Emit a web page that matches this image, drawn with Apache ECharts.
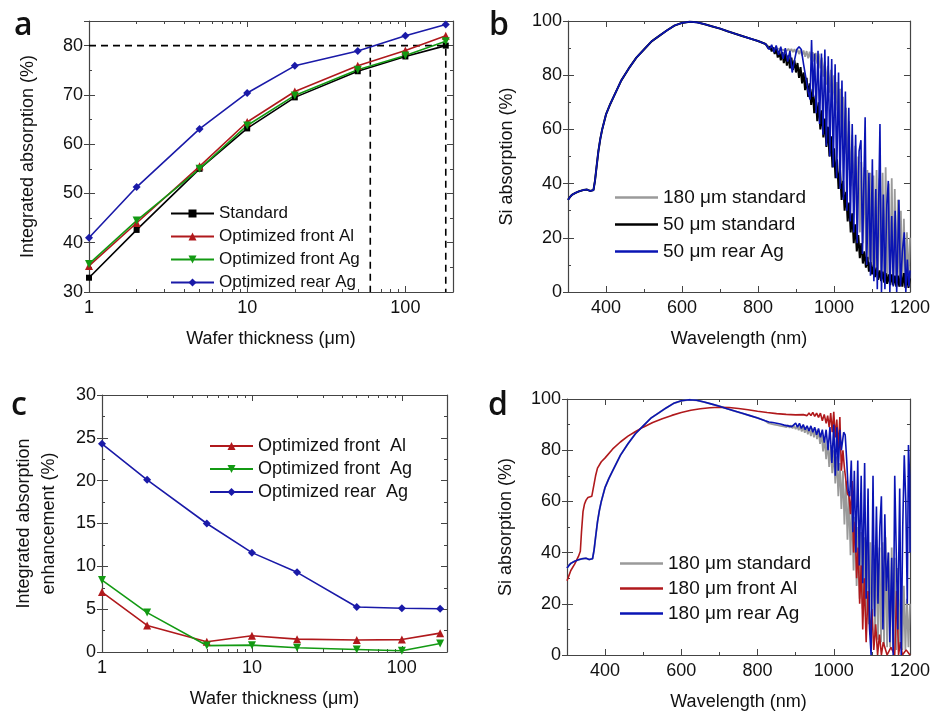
<!DOCTYPE html>
<html><head><meta charset="utf-8">
<script src="https://cdn.jsdelivr.net/npm/echarts@6/dist/echarts.min.js"></script>
<style>html,body{margin:0;padding:0;background:#fff}#c{width:933px;height:712px}</style>
</head><body><div id="c"></div>
<script>
// ---------- DATA ----------
const thickness = [1, 2, 5, 10, 20, 50, 100, 180];
const absStandard = [32.9, 42.6, 55.0, 63.2, 69.5, 74.8, 77.8, 80.0];
const absFrontAl = [35.3, 44.0, 55.5, 64.5, 70.7, 75.9, 79.0, 82.0];
const absFrontAg = [35.7, 44.5, 55.0, 63.8, 69.9, 75.1, 78.0, 80.9];
const absRearAg = [41.0, 51.3, 63.1, 70.4, 75.9, 78.9, 82.0, 84.3];
const guideX1 = [1, 180, 180];
const guideY1 = [80, 80, 30];
const guideX2 = [60, 60];
const guideY2 = [80, 30];

const enhFrontAl = [7.0, 3.1, 1.2, 1.9, 1.5, 1.4, 1.45, 2.2];
const enhFrontAg = [8.4, 4.6, 0.75, 0.8, 0.5, 0.3, 0.15, 1.0];
const enhRearAg = [24.3, 20.1, 15.0, 11.6, 9.3, 5.25, 5.1, 5.05];

const logMajorTicks = [1, 10, 100];
const logMinorTicks = [2, 3, 4, 5, 6, 7, 8, 9, 20, 30, 40, 50, 60, 70, 80, 90, 200];

// common smooth part of the spectra (300-820 nm)
const wlCommon = [300,305,310,320,330,340,350,358,363,367,371,375,380,385,390,400,410,420,440,460,480,500,520,540,560,580,600,620,640,660,680,700,720,740,760,780,800,820];
const siCommon = [34.0,35.0,35.8,36.6,37.2,37.6,37.8,37.3,37.0,37.6,41,46,52,56.5,60,65.5,69,72,78,82.5,86.5,89.5,92.5,94.5,96.5,98.3,99.3,99.7,99.5,98.8,98.0,97.2,96.2,95.3,94.4,93.5,92.6,91.5];

// dense tails 824-1200 nm
const wlDense = [824,828,832,836,840,844,848,852,856,860,864,868,872,876,880,884,888,892,896,900,904,908,912,916,920,924,928,932,936,940,944,948,952,956,960,964,968,972,976,980,984,988,992,996,1000,1004,1008,1012,1016,1020,1024,1028,1032,1036,1040,1044,1048,1052,1056,1060,1064,1068,1072,1076,1080,1084,1088,1092,1096,1100,1104,1108,1112,1116,1120,1124,1128,1132,1136,1140,1144,1148,1152,1156,1160,1164,1168,1172,1176,1180,1184,1188,1192,1196,1200];
const std180Tail = [91.2,90.6,91.0,90.3,90.8,90.0,90.6,89.8,90.4,89.5,90.2,89.3,90.0,89.0,89.8,88.8,89.7,88.5,89.6,88.2,89.5,87.8,89.3,87.3,89.1,86.8,88.9,86.2,88.7,85.5,88.5,85.0,88.2,84.3,88.0,82.5,86.5,79.5,85.0,76.5,83.5,73.5,82.0,71.0,80.0,67.0,77.5,62.0,75.0,57.0,72.0,51.0,68.0,45.0,63.0,39.0,58.0,33.0,54.0,27.0,50.0,22.0,48.0,18.0,46.0,15.0,45.0,12.0,44.0,10.0,43.0,8.0,45.0,6.0,42.0,5.0,44.0,4.0,46.0,3.0,40.0,3.0,42.0,2.5,38.0,2.0,34.0,2.0,30.0,2.0,27.0,2.0,22.0,3.0,20.0];
const std50Tail = [91.0,89.8,90.6,88.8,90.2,87.8,89.7,86.5,89.0,85.5,88.5,84.5,88.0,83.5,87.3,82.5,86.5,82.0,85.5,81.0,84.5,79.0,83.0,77.0,81.0,74.5,79.0,72.0,77.0,69.0,75.0,66.0,72.5,63.0,70.0,60.0,67.0,57.0,64.0,53.5,61.0,50.0,57.5,46.0,53.0,42.0,49.0,38.0,45.0,34.0,41.0,30.0,37.0,26.0,33.0,22.0,29.0,18.0,25.0,15.0,21.0,12.5,18.0,10.5,15.0,9.0,13.0,7.5,11.0,6.5,10.0,5.5,9.0,4.5,8.0,4.0,7.5,3.5,7.0,3.0,6.5,2.5,6.5,2.5,6.0,2.0,6.0,2.0,6.5,2.0,7.0,1.5,6.0,1.5,5.0];

const wlRear50 = [824,830,836,842,848,854,860,866,872,878,884,890,896,902,908,914,920,926,932,937,941,945,949,953,958,962,967,971,976,980,985,989,994,998,1003,1007,1012,1016,1021,1025,1030,1034,1039,1043,1048,1052,1057,1061,1066,1071,1075,1082,1086,1092,1096,1101,1105,1110,1114,1121,1125,1130,1134,1139,1143,1147,1152,1156,1161,1165,1171,1175,1180,1185,1189,1193,1197,1200];
const rear50Tail = [90.8,89.5,91.2,88.5,91.0,87.5,90.5,86.0,90.0,85.0,89.0,81.0,85.5,89.5,90.5,89.5,84.0,79.0,74.0,71.0,93.0,72.0,88.0,66.0,89.0,62.0,88.0,58.0,89.5,54.0,87.0,50.0,86.0,46.0,84.0,42.0,81.0,38.0,78.0,34.0,74.0,30.0,68.0,26.0,62.0,22.0,58.0,18.0,52.0,56.0,14.0,64.5,10.0,44.0,6.0,49.0,4.0,38.0,1.0,62.0,0.0,36.0,1.0,32.0,41.0,0.0,28.0,2.0,30.0,0.0,34.0,2.0,15.0,22.0,0.0,12.0,2.0,8.0];

const wlRear180 = [824,830,840,850,860,870,880,890,900,905,910,915,920,925,930,935,940,945,950,955,960,965,970,975,980,985,990,995,1000,1004,1008,1012,1016,1020,1026,1030,1034,1038,1042,1046,1050,1054,1058,1063,1067,1072,1076,1081,1085,1090,1094,1098,1103,1107,1112,1116,1121,1125,1129,1134,1138,1143,1147,1152,1156,1160,1164,1168,1173,1177,1181,1185,1189,1193,1196,1199,1200];
const rear180Tail = [91.3,91.0,90.8,90.5,90.2,89.8,89.5,89.2,90.6,89,90.5,88.5,90,88,89.5,87.5,89.5,87,89,86,88.5,85,88,83,88,80,89,75,90,70,89,72,88,80,87,86,76,64,62,76,48,72,40,76,35,70,28,75,22,65,10,0,70,15,58,20,50,62,10,55,25,40,5,38,0,70,40,10,65,0,50,78,60,20,82,70,40];

const wlFrontAl = [300,305,310,320,330,335,338,342,346,350,355,360,365,370,375,380,390,400,420,440,460,480,500,525,550,575,600,625,650,675,700,725,750,775,800,825,850,875,900,920,930,935,940,945,950,955,960,965,970,975,980,984,988,992,996,1000,1004,1008,1012,1016,1020,1024,1028,1032,1036,1040,1044,1048,1052,1056,1060,1064,1068,1072,1076,1080,1085,1090,1095,1100,1105,1110,1115,1120,1125,1130,1140,1150,1160,1165,1170,1175,1180,1190,1200];
const siFrontAl = [29,31,33,35.5,38.5,40.5,48,56,59,60.5,61.5,61,62,66,70,73,75.5,77,80.5,83.2,85.5,87.3,89,90.8,92.3,93.6,94.7,95.6,96.2,96.6,96.8,96.7,96.3,95.8,95.2,94.7,94.3,94.0,93.8,93.9,93.5,94.5,93.5,94.8,93.2,94.5,92.8,94.5,91.5,94.0,90.5,93.5,89,94.5,87,95,85,92,80,93,72,80,73,68,63,62,55,68,40,52,30,42,20,35,10,30,5,25,8,18,2,12,0,8,0,5,0,3,0,25,0,5,0,2,0];

const xTicksWl = [400, 600, 800, 1000, 1200];

// ---------- BUILD ----------
const zip = (xs, ys) => xs.map((x, i) => [x, ys[i]]);
const cat = (a, b) => a.concat(b);
const FONT = 'Liberation Sans';
const AX = '#444';
const TXT = '#111';

const grids = [
  {left: 89, top: 21, width: 364, height: 271},
  {left: 568, top: 21, width: 343, height: 271},
  {left: 102, top: 395, width: 345, height: 257},
  {left: 567, top: 399, width: 344, height: 257}
];

const LINE = {onZero: false, lineStyle: {color: AX, width: 1.2}};
const NOLINE = {show: false, onZero: false};

function logAxes(g, name) {
  const base = {type: 'log', logBase: 10, min: 1, max: 200, gridIndex: g, splitLine: {show: false}};
  return [
    Object.assign({}, base, {
      position: 'bottom', name: name, nameLocation: 'middle', nameGap: 38,
      nameTextStyle: {fontFamily: FONT, fontSize: 18, color: TXT},
      axisLine: LINE,
      axisTick: {inside: true, length: 6, customValues: logMajorTicks, lineStyle: {color: AX}},
      axisLabel: {fontFamily: FONT, fontSize: 18, color: TXT, margin: 7, customValues: logMajorTicks, formatter: v => String(v)}
    }),
    Object.assign({}, base, {
      position: 'bottom', axisLine: NOLINE,
      axisTick: {inside: true, length: 3, customValues: logMinorTicks, lineStyle: {color: AX}},
      axisLabel: {show: false}
    }),
    Object.assign({}, base, {
      position: 'top', axisLine: LINE,
      axisTick: {inside: true, length: 6, customValues: logMajorTicks, lineStyle: {color: AX}},
      axisLabel: {show: false}
    }),
    Object.assign({}, base, {
      position: 'top', axisLine: NOLINE,
      axisTick: {inside: true, length: 3, customValues: logMinorTicks, lineStyle: {color: AX}},
      axisLabel: {show: false}
    })
  ];
}
function wlAxes(g) {
  const base = {type: 'value', min: 300, max: 1200, gridIndex: g, splitLine: {show: false}};
  return [
    Object.assign({}, base, {
      position: 'bottom', name: 'Wavelength (nm)', nameLocation: 'middle', nameGap: 38,
      nameTextStyle: {fontFamily: FONT, fontSize: 18, color: TXT},
      axisLine: LINE,
      axisTick: {inside: true, length: 6, customValues: xTicksWl, lineStyle: {color: AX}},
      axisLabel: {fontFamily: FONT, fontSize: 18, color: TXT, margin: 7, customValues: xTicksWl, formatter: v => String(v)}
    }),
    Object.assign({}, base, {
      position: 'bottom', interval: 100, axisLine: NOLINE,
      axisTick: {inside: true, length: 3, lineStyle: {color: AX}}, axisLabel: {show: false}
    }),
    Object.assign({}, base, {
      position: 'top', axisLine: LINE,
      axisTick: {inside: true, length: 6, customValues: xTicksWl, lineStyle: {color: AX}}, axisLabel: {show: false}
    }),
    Object.assign({}, base, {
      position: 'top', interval: 100, axisLine: NOLINE,
      axisTick: {inside: true, length: 3, lineStyle: {color: AX}}, axisLabel: {show: false}
    })
  ];
}
function yAxes(g, min, max, interval, name, nameGap, lh) {
  const base = {type: 'value', min: min, max: max, interval: interval, gridIndex: g, splitLine: {show: false},
    minorTick: {show: true, splitNumber: 2, length: 3, lineStyle: {color: AX}}};
  return [
    Object.assign({}, base, {
      position: 'left', name: name, nameLocation: 'middle', nameGap: nameGap,
      nameTextStyle: {fontFamily: FONT, fontSize: 18, color: TXT, lineHeight: lh},
      axisLine: LINE,
      axisTick: {inside: false, length: 5, lineStyle: {color: AX}},
      minorTick: {show: false},
      axisLabel: {fontFamily: FONT, fontSize: 18, color: TXT, margin: 6,
        formatter: v => (Math.abs(v / interval - Math.round(v / interval)) < 1e-6 ? String(v) : '')}
    }),
    Object.assign({}, base, {
      position: 'left', axisLine: NOLINE,
      axisTick: {inside: true, length: 6, lineStyle: {color: AX}}, axisLabel: {show: false}
    }),
    Object.assign({}, base, {
      position: 'right', axisLine: LINE,
      axisTick: {inside: true, length: 6, lineStyle: {color: AX}}, axisLabel: {show: false}
    })
  ];
}

const xAxis = [].concat(
  logAxes(0, 'Wafer thickness (\u03bcm)'),   // 0-3
  wlAxes(1),                                 // 4-7
  logAxes(2, 'Wafer thickness (\u03bcm)'),   // 8-11
  wlAxes(3)                                  // 12-15
);
const yAxis = [].concat(
  yAxes(0, 30, 85, 10, 'Integrated absorption (%)', 50, 22), // 0-2
  yAxes(1, 0, 100, 20, 'Si absorption (%)', 50, 22),        // 3-5
  yAxes(2, 0, 30, 5, 'Integrated absorption\nenhancement (%)', 40, 25), // 6-8
  yAxes(3, 0, 100, 20, 'Si absorption (%)', 50, 22)         // 9-11
);

const RED = '#b0191c', GREEN = '#139a13', BLUE = '#1a1aa8', GRAY = '#9a9a9a', BLUE2 = '#0a14b4';

function markerLine(name, xi, yi, xs, ys, color, symbol, size, rot) {
  return {type: 'line', name: name, xAxisIndex: xi, yAxisIndex: yi, data: zip(xs, ys),
    symbol: symbol, symbolSize: size, symbolRotate: rot || 0, showSymbol: true,
    lineStyle: {color: color, width: 1.6}, itemStyle: {color: color}, animation: false, z: 3};
}
function specLine(name, xi, yi, xs, ys, color, w, z) {
  return {type: 'line', name: name, xAxisIndex: xi, yAxisIndex: yi, data: zip(xs, ys),
    symbol: 'none', showSymbol: false, clip: true,
    lineStyle: {color: color, width: w}, itemStyle: {color: color}, animation: false, z: z};
}
function guide(xi, yi, xs, ys) {
  return {type: 'line', xAxisIndex: xi, yAxisIndex: yi, data: zip(xs, ys), symbol: 'none',
    lineStyle: {color: '#000', width: 1.6, type: [7, 5]}, animation: false, z: 2, silent: true};
}

const series = [
  guide(0, 0, guideX1, guideY1),
  guide(0, 0, guideX2, guideY2),
  markerLine('Standard', 0, 0, thickness, absStandard, '#000', 'rect', 6),
  markerLine('Optimized front Al', 0, 0, thickness, absFrontAl, RED, 'triangle', 8),
  markerLine('Optimized front Ag', 0, 0, thickness, absFrontAg, GREEN, 'triangle', 8, 180),
  markerLine('Optimized rear Ag', 0, 0, thickness, absRearAg, BLUE, 'diamond', 8),

  specLine('180 \u03bcm standard', 4, 3, cat(wlCommon, wlDense), cat(siCommon, std180Tail), GRAY, 1.8, 2),
  specLine('50 \u03bcm standard', 4, 3, cat(wlCommon, wlDense), cat(siCommon, std50Tail), '#000', 2.0, 3),
  specLine('50 \u03bcm rear Ag', 4, 3, cat(wlCommon, wlRear50), cat(siCommon, rear50Tail), BLUE2, 1.6, 4),

  markerLine('Optimized front  Al', 8, 6, thickness, enhFrontAl, RED, 'triangle', 8),
  markerLine('Optimized front  Ag', 8, 6, thickness, enhFrontAg, GREEN, 'triangle', 8, 180),
  markerLine('Optimized rear  Ag', 8, 6, thickness, enhRearAg, BLUE, 'diamond', 8),

  specLine('180 \u03bcm standard', 12, 9, cat(wlCommon, wlDense), cat(siCommon, std180Tail), GRAY, 1.8, 2),
  specLine('180 \u03bcm front Al', 12, 9, wlFrontAl, siFrontAl, RED, 1.6, 3),
  specLine('180 \u03bcm rear Ag', 12, 9, cat(wlCommon, wlRear180), cat(siCommon, rear180Tail), BLUE2, 1.6, 4)
];

function legend(names, left, top, fs, gap, plain) {
  const l = {orient: 'vertical', left: left, top: top, data: names, itemWidth: 43, itemHeight: plain ? 2.5 : 10, itemGap: gap,
    selectedMode: false, textStyle: {fontFamily: FONT, fontSize: fs, color: TXT}};
  if (plain) { l.icon = 'rect'; }
  return l;
}

const option = {
  backgroundColor: '#fff',
  animation: false,
  title: [
    {text: 'a', left: 9, top: 5, textStyle: {fontFamily: 'Open Sans', fontSize: 32, fontWeight: 600, color: '#111'}},
    {text: 'b', left: 484, top: 5, textStyle: {fontFamily: 'Open Sans', fontSize: 32, fontWeight: 600, color: '#111'}},
    {text: 'c', left: 6, top: 385, textStyle: {fontFamily: 'Open Sans', fontSize: 32, fontWeight: 600, color: '#111'}},
    {text: 'd', left: 483, top: 385, textStyle: {fontFamily: 'Open Sans', fontSize: 32, fontWeight: 600, color: '#111'}}
  ],
  grid: grids.map(g => Object.assign({show: false}, g)),
  legend: [
    legend(['Standard', 'Optimized front Al', 'Optimized front Ag', 'Optimized rear Ag'], 165, 200, 17, 6, false),
    legend(['180 \u03bcm standard', '50 \u03bcm standard', '50 \u03bcm rear Ag'], 610, 183, 19, 8, true),
    legend(['Optimized front  Al', 'Optimized front  Ag', 'Optimized rear  Ag'], 204, 432, 18, 5, false),
    legend(['180 \u03bcm standard', '180 \u03bcm front Al', '180 \u03bcm rear Ag'], 615, 549, 19, 6, true)
  ],
  xAxis: xAxis,
  yAxis: yAxis,
  series: series
};
const chart = echarts.init(document.getElementById('c'));
chart.setOption(option);
</script>
</body></html>
